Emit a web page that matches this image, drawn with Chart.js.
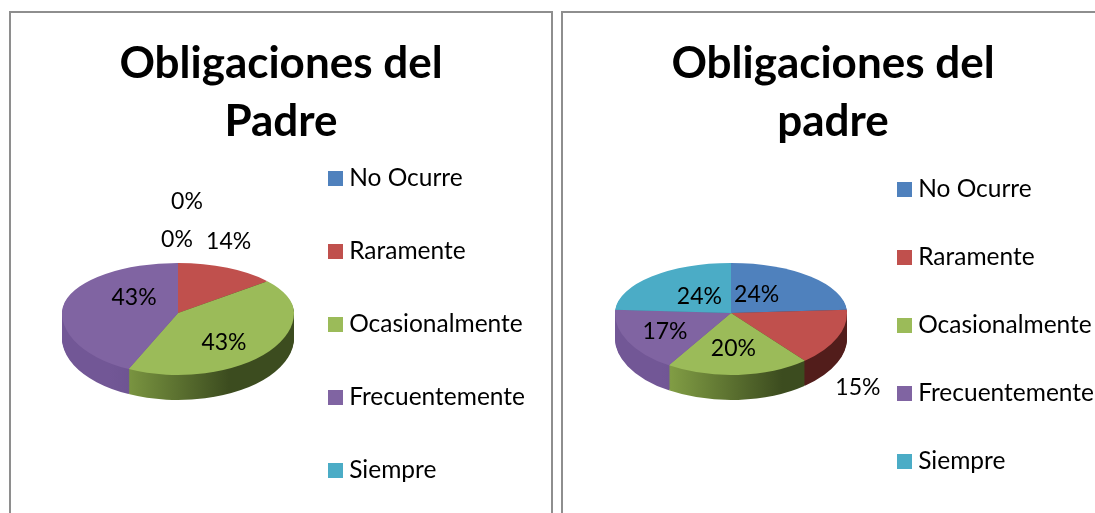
<!DOCTYPE html>
<html>
<head>
<meta charset="utf-8">
<script src="https://cdn.jsdelivr.net/npm/chart.js@4"></script>
<style>
  html, body { margin: 0; padding: 0; background: #fff; overflow: hidden; height: 513px; }
  .frame { position: absolute; top: 11px; width: 540px; height: 520px; border: 2px solid #8e8e8e; }
  canvas { position: absolute; top: 11px; }
</style>
</head>
<body>
<div class="frame" style="left:9px"></div>
<div class="frame" style="left:561px"></div>
<canvas id="chartLeft" width="542" height="626" style="left:10px"></canvas>
<canvas id="chartRight" width="542" height="628" style="left:562px"></canvas>
<script>
const categories = ['No Ocurre', 'Raramente', 'Ocasionalmente', 'Frecuentemente', 'Siempre'];
const titleLeft = ['Obligaciones del', 'Padre'];
const titleRight = ['Obligaciones del', 'padre'];
const valuesLeft = [0, 14, 43, 43, 0];
const valuesRight = [24, 15, 20, 17, 24];

const sliceColors = ['#4f81bd', '#c0504d', '#9bbb59', '#8064a2', '#4bacc6'];
// side wall of the pie, light to dark going left to right
const wallColors = [
    ['#3f6797', '#2c4a70'],
    ['#8a3432', '#521d1b'],
    ['#86a347', '#3c4c1f'],
    ['#725796', '#5c4680'],
    ['#3a8aa0', '#2a6a7c']
];

// legend swatches as small canvases, chart.js puts too wide a gap after a normal box
const swatches = sliceColors.map(color => {
    const c = document.createElement('canvas');
    c.width = 15;
    c.height = 15;
    const g = c.getContext('2d');
    g.fillStyle = color;
    g.fillRect(0, 0, 15, 15);
    return c;
});

// fake 3D: the pie is squashed, the near half a bit more open than the far half
function pie3d(shape) {
    return {
        id: 'pie3d',
        beforeDatasetsDraw(chart) {
            const ctx = chart.ctx;
            const arcs = chart.getDatasetMeta(0).data;
            const paint = (drop, colorFor) => {
                [[0, shape.apex + drop, shape.ryTop], [shape.apex + drop, chart.height, shape.ryBottom]].forEach(([from, to, ry]) => {
                    ctx.save();
                    ctx.beginPath();
                    ctx.rect(0, from, chart.width, to - from);
                    ctx.clip();
                    arcs.forEach((arc, i) => {
                        ctx.save();
                        ctx.translate(shape.cx, shape.apex + drop);
                        ctx.scale(shape.rx / arc.outerRadius, ry / arc.outerRadius);
                        ctx.translate(-arc.x, -arc.y);
                        const original = arc.options;
                        arc.options = {...original, backgroundColor: colorFor(i, arc), borderWidth: 0};
                        arc.draw(ctx);
                        arc.options = original;
                        ctx.restore();
                    });
                    ctx.restore();
                });
            };
            const wallFill = i => {
                const r = arcs[i].outerRadius;
                const g = ctx.createLinearGradient(arcs[i].x - r, 0, arcs[i].x + r, 0);
                g.addColorStop(0.2, wallColors[i][0]);
                g.addColorStop(0.72, wallColors[i][1]);
                return g;
            };
            for (let d = shape.depth; d > 0; d--) {
                paint(d, wallFill);
            }
            paint(0, i => sliceColors[i]);
            return false;
        },
        afterDraw(chart) {
            const ctx = chart.ctx;
            const data = chart.data.datasets[0].data;
            const total = data.reduce((a, b) => a + b, 0);
            ctx.save();
            ctx.font = '23px Lato';
            ctx.fillStyle = '#000';
            ctx.textAlign = 'center';
            ctx.textBaseline = 'middle';
            chart.getDatasetMeta(0).data.forEach((arc, i) => {
                const a = (arc.startAngle + arc.endAngle) / 2;
                const ry = Math.sin(a) < 0 ? shape.ryTop : shape.ryBottom;
                const x = shape.cx + shape.rx * 0.6 * Math.cos(a) + shape.nudge[i][0];
                const y = shape.apex + ry * 0.6 * Math.sin(a) + shape.nudge[i][1] + 1;
                ctx.fillText(Math.round(data[i] / total * 100) + '%', x, y);
            });
            ctx.restore();
        }
    };
}

function drawChart(id, title, values, shape, legendGap, sidePad) {
    new Chart(document.getElementById(id), {
        type: 'pie',
        data: {
            labels: categories,
            datasets: [{data: values, backgroundColor: sliceColors, borderWidth: 0}]
        },
        options: {
            responsive: false,
            animation: false,
            // same on both sides so the title stays centred
            layout: {padding: {left: sidePad, right: sidePad}},
            plugins: {
                title: {
                    display: true,
                    text: title,
                    color: '#000',
                    font: {family: 'Lato', size: 44, weight: 'bold', lineHeight: 1.32},
                    padding: {top: 24, bottom: 0}
                },
                legend: {
                    position: 'right',
                    labels: {
                        color: '#000',
                        font: {family: 'Lato', size: 24.5},
                        usePointStyle: true,
                        boxWidth: 3,
                        boxHeight: 15,
                        padding: legendGap,
                        generateLabels(chart) {
                            return Chart.overrides.pie.plugins.legend.labels.generateLabels(chart)
                                .map((item, i) => ({...item, pointStyle: swatches[i]}));
                        }
                    }
                },
                tooltip: {enabled: false}
            }
        },
        plugins: [pie3d(shape)]
    });
}

drawChart('chartLeft', titleLeft, valuesLeft, {
    cx: 168, apex: 302, rx: 116, ryTop: 50, ryBottom: 62, depth: 25,
    nudge: [[-1, -44], [21, -45], [-9, 6], [24, -10], [9, -82]]
}, 48.5, 17);

drawChart('chartRight', titleRight, valuesRight, {
    cx: 169, apex: 302, rx: 116, ryTop: 50, ryBottom: 62, depth: 25,
    nudge: [[-22, 2], [63, 59], [-2, -3], [-4, 1], [16, 4]]
}, 43.5, 0);
</script>
</body>
</html>
